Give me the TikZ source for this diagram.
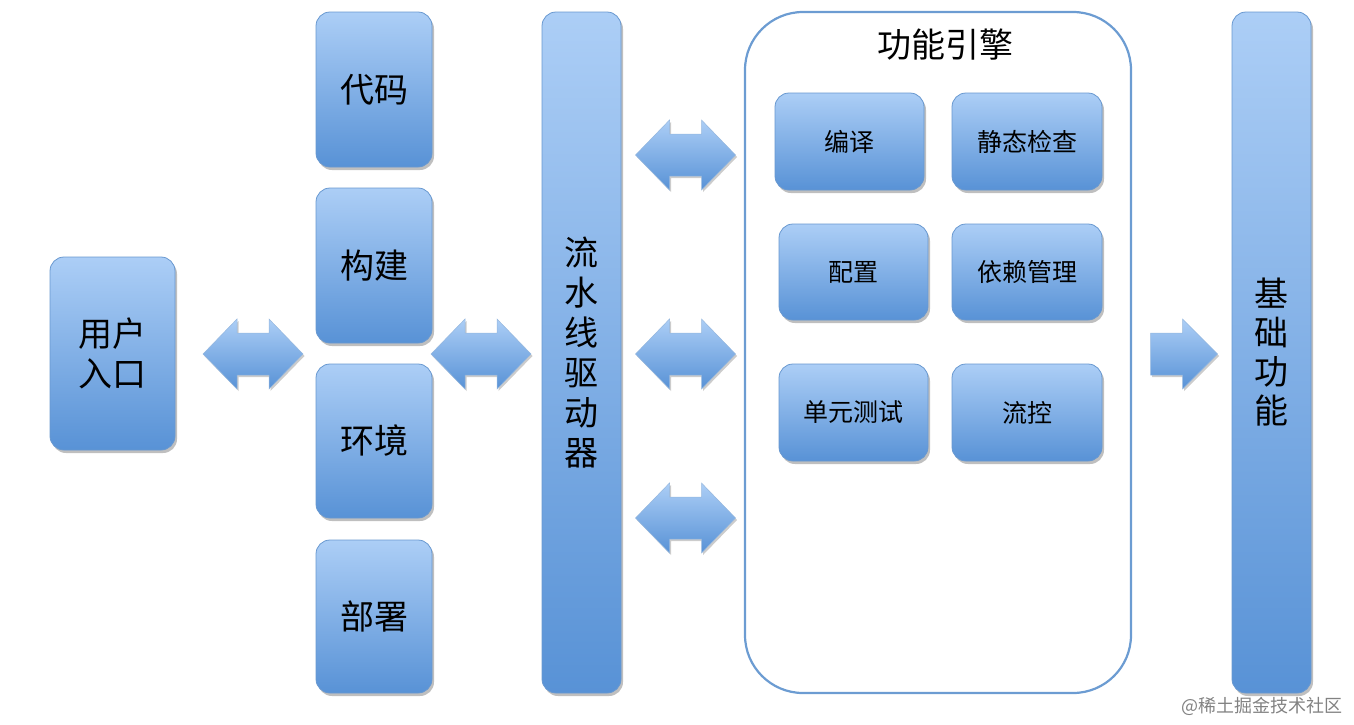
\documentclass[tikz,border=0pt]{standalone}
\usepackage{fontspec}
\setmainfont{Noto Sans CJK SC}
\usetikzlibrary{shadows}
\definecolor{topc}{RGB}{172,206,246}
\definecolor{botc}{RGB}{88,146,214}
\definecolor{bordc}{RGB}{104,152,208}
\definecolor{framec}{RGB}{108,156,210}
\definecolor{wmc}{RGB}{130,130,130}
\tikzset{
  blk/.style={rounded corners=14pt, draw=bordc, line width=0.8pt,
    top color=topc, bottom color=botc, inner sep=0pt, text=black,
    drop shadow={shadow xshift=2pt, shadow yshift=-3pt, opacity=0.25, fill=black}},
  bigtxt/.style={font=\fontsize{34}{40}\selectfont, align=center},
  smalltxt/.style={font=\fontsize{25}{30}\selectfont, align=center},
  arrshape/.style={draw=bordc!70, line width=0.5pt, top color=topc, bottom color=botc,
    drop shadow={shadow xshift=1.5pt, shadow yshift=-2pt, opacity=0.2, fill=black}},
  dblarr/.pic={\path[arrshape] (-50,0) -- (-16,-35) -- (-16,-21) -- (16,-21) -- (16,-35)
      -- (50,0) -- (16,35) -- (16,21) -- (-16,21) -- (-16,35) -- cycle;},
  sglarr/.pic={\path[arrshape] (-33,-21) -- (-1,-21) -- (-1,-35) -- (34,0) -- (-1,35)
      -- (-1,21) -- (-33,21) -- cycle;}
}
\begin{document}
\begin{tikzpicture}[x=1pt,y=-1pt]
\useasboundingbox (0,0) rectangle (1354,724);
% engine frame
\node[draw=framec, line width=2.2pt, rounded corners=58pt, fill=white,
      minimum width=386pt, minimum height=681pt, inner sep=0pt] (engine) at (938,352.5) {};
\node[font=\fontsize{34}{40}\selectfont] (title) at (945,45) {功能引擎};
% left blocks
\node[blk, bigtxt, minimum width=125pt, minimum height=193pt] (user) at (112.5,353.5) {用户\\入口};
\node[blk, bigtxt, minimum width=116pt, minimum height=155pt] (code) at (374,89.5) {代码};
\node[blk, bigtxt, minimum width=116pt, minimum height=155pt] (build) at (374,265.5) {构建};
\node[blk, bigtxt, minimum width=116pt, minimum height=154pt] (env) at (374,441) {环境};
\node[blk, bigtxt, minimum width=116pt, minimum height=153pt] (deploy) at (374,616.5) {部署};
% pipeline
\node[blk, bigtxt, minimum width=79pt, minimum height=681pt] (pipe) at (581.5,352.5) {流\\水\\线\\驱\\动\\器};
% inner engine blocks
\node[blk, smalltxt, minimum width=149pt, minimum height=97pt] (compile) at (849.5,141.5) {编译};
\node[blk, smalltxt, minimum width=150pt, minimum height=97pt] (static) at (1027,141.5) {静态检查};
\node[blk, smalltxt, minimum width=149pt, minimum height=96pt] (config) at (853.5,272) {配置};
\node[blk, smalltxt, minimum width=150pt, minimum height=96pt] (deps) at (1027,272) {依赖管理};
\node[blk, smalltxt, minimum width=149pt, minimum height=97pt] (unit) at (853.5,412.5) {单元测试};
\node[blk, smalltxt, minimum width=150pt, minimum height=97pt] (flow) at (1027,412.5) {流控};
% base
\node[blk, font=\fontsize{34}{39}\selectfont, align=center, minimum width=79pt, minimum height=681pt] (base) at (1271.5,352.5) {基\\础\\功\\能};
% block arrows
\pic at (253,354) {dblarr};
\pic at (481,354) {dblarr};
\pic at (685.5,155) {dblarr};
\pic at (685.5,354) {dblarr};
\pic at (685.5,518) {dblarr};
\pic at (1183.5,354) {sglarr};
% watermark
\node[anchor=east, text=wmc, font=\fontsize{18}{20}\selectfont] (wm) at (1346,706) {@稀土掘金技术社区};
\end{tikzpicture}
\end{document}
